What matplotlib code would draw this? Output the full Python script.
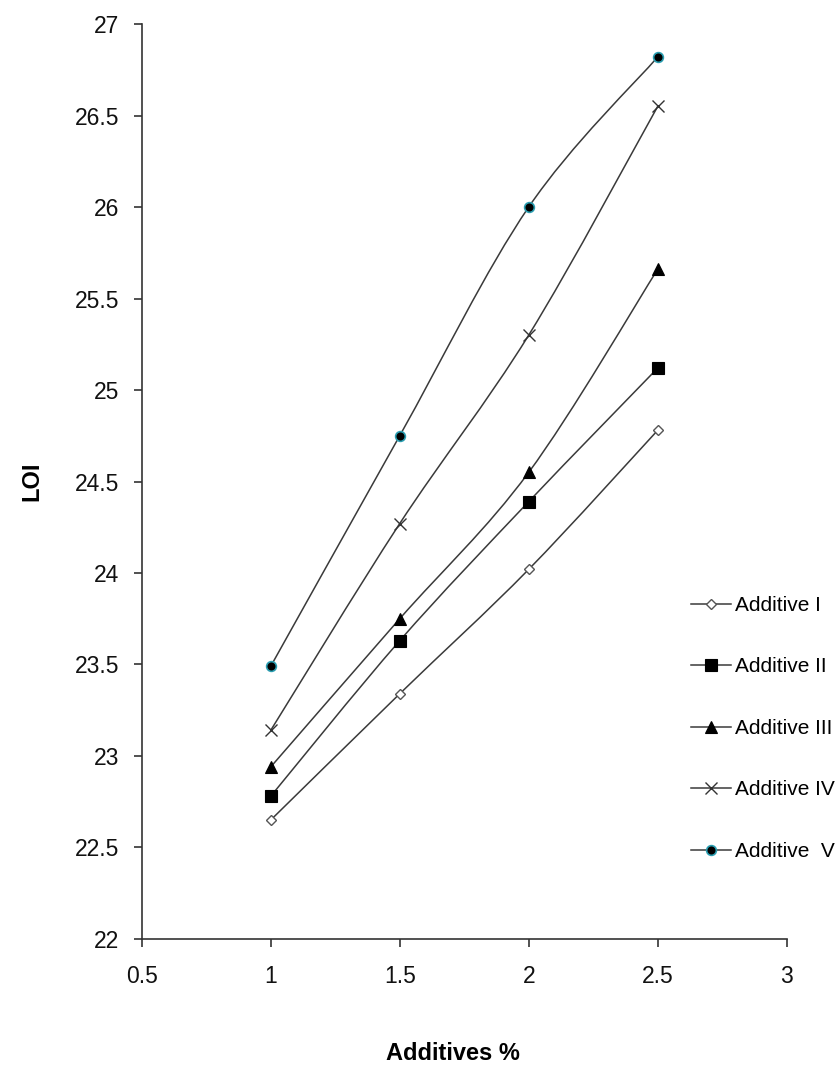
import matplotlib
matplotlib.use("Agg")
import matplotlib.pyplot as plt
from matplotlib.path import Path
from matplotlib.patches import PathPatch
from matplotlib.lines import Line2D

plt.rcParams['font.family'] = ['Liberation Sans', 'DejaVu Sans']

additives = [1.0, 1.5, 2.0, 2.5]
series_names = ["Additive I", "Additive II", "Additive III", "Additive IV", "Additive  V"]
loi_I = [22.65, 23.34, 24.02, 24.78]
loi_II = [22.78, 23.63, 24.39, 25.12]
loi_III = [22.94, 23.75, 24.55, 25.66]
loi_IV = [23.14, 24.27, 25.30, 26.55]
loi_V = [23.49, 24.75, 26.00, 26.82]
x_ticks = [0.5, 1, 1.5, 2, 2.5, 3]
x_tick_labels = ["0.5", "1", "1.5", "2", "2.5", "3"]
y_ticks = [22, 22.5, 23, 23.5, 24, 24.5, 25, 25.5, 26, 26.5, 27]
y_tick_labels = ["22", "22.5", "23", "23.5", "24", "24.5", "25", "25.5", "26", "26.5", "27"]

line_color = "#3a3a3a"
styles = [
    dict(marker="D", markersize=5.5, markerfacecolor="white", markeredgecolor="#555555", markeredgewidth=1.0),
    dict(marker="s", markersize=8, markerfacecolor="black", markeredgecolor="black", markeredgewidth=0.8),
    dict(marker="^", markersize=8, markerfacecolor="black", markeredgecolor="black", markeredgewidth=0.8),
    dict(marker="x", markersize=9, markerfacecolor="none", markeredgecolor="#333333", markeredgewidth=1.0),
    dict(marker="o", markersize=7, markerfacecolor="black", markeredgecolor="#2a9db0", markeredgewidth=1.2),
]
all_series = [loi_I, loi_II, loi_III, loi_IV, loi_V]

fig = plt.figure(figsize=(8.38, 10.68), dpi=100)
ax = fig.add_axes([0.1691, 0.1208, 0.9388 - 0.1691, 0.9775 - 0.1208])


def smooth_path(xs, ys, t=1.0 / 6.0):
    pts = list(zip(xs, ys))
    verts = [pts[0]]
    codes = [Path.MOVETO]
    n = len(pts)
    for i in range(n - 1):
        p0 = pts[i - 1] if i > 0 else pts[i]
        p1 = pts[i]
        p2 = pts[i + 1]
        p3 = pts[i + 2] if i + 2 < n else pts[i + 1]
        c1 = (p1[0] + (p2[0] - p0[0]) * t, p1[1] + (p2[1] - p0[1]) * t)
        c2 = (p2[0] - (p3[0] - p1[0]) * t, p2[1] - (p3[1] - p1[1]) * t)
        verts += [c1, c2, p2]
        codes += [Path.CURVE4, Path.CURVE4, Path.CURVE4]
    return Path(verts, codes)


handles = []
for name, ys, st in zip(series_names, all_series, styles):
    patch = PathPatch(smooth_path(additives, ys), facecolor="none", edgecolor=line_color, lw=1.1, zorder=2)
    ax.add_patch(patch)
    ax.plot(additives, ys, linestyle="none", zorder=3, **st)
    handles.append(Line2D([0], [0], color=line_color, lw=1.1, label=name, **st))

ax.set_xlim(0.5, 3)
ax.set_ylim(22, 27)
ax.set_xticks(x_ticks)
ax.set_xticklabels(x_tick_labels)
ax.set_yticks(y_ticks)
ax.set_yticklabels(y_tick_labels)
for s in ["top", "right"]:
    ax.spines[s].set_visible(False)
for s in ["left", "bottom"]:
    ax.spines[s].set_color("#333333")
    ax.spines[s].set_linewidth(1.2)
ax.tick_params(axis="both", direction="out", length=6, width=1.2, color="#333333",
               labelsize=16.5, labelcolor="#111111")
ax.tick_params(axis="x", pad=13)
ax.tick_params(axis="y", pad=10)

fig.text(0.0375, 0.5493, "LOI", rotation=90, fontsize=17, fontweight="bold", ha="center", va="center")
fig.text(0.540, 0.0140, "Additives %", fontsize=17, fontweight="bold", ha="center", va="center")

fig.legend(handles=handles, loc="upper left", bbox_to_anchor=(0.8245, 0.442),
           frameon=False, fontsize=15, labelspacing=2.04, handlelength=1.9,
           handletextpad=0.2, borderaxespad=0, borderpad=0)

fig.savefig("out.png", dpi=100)
